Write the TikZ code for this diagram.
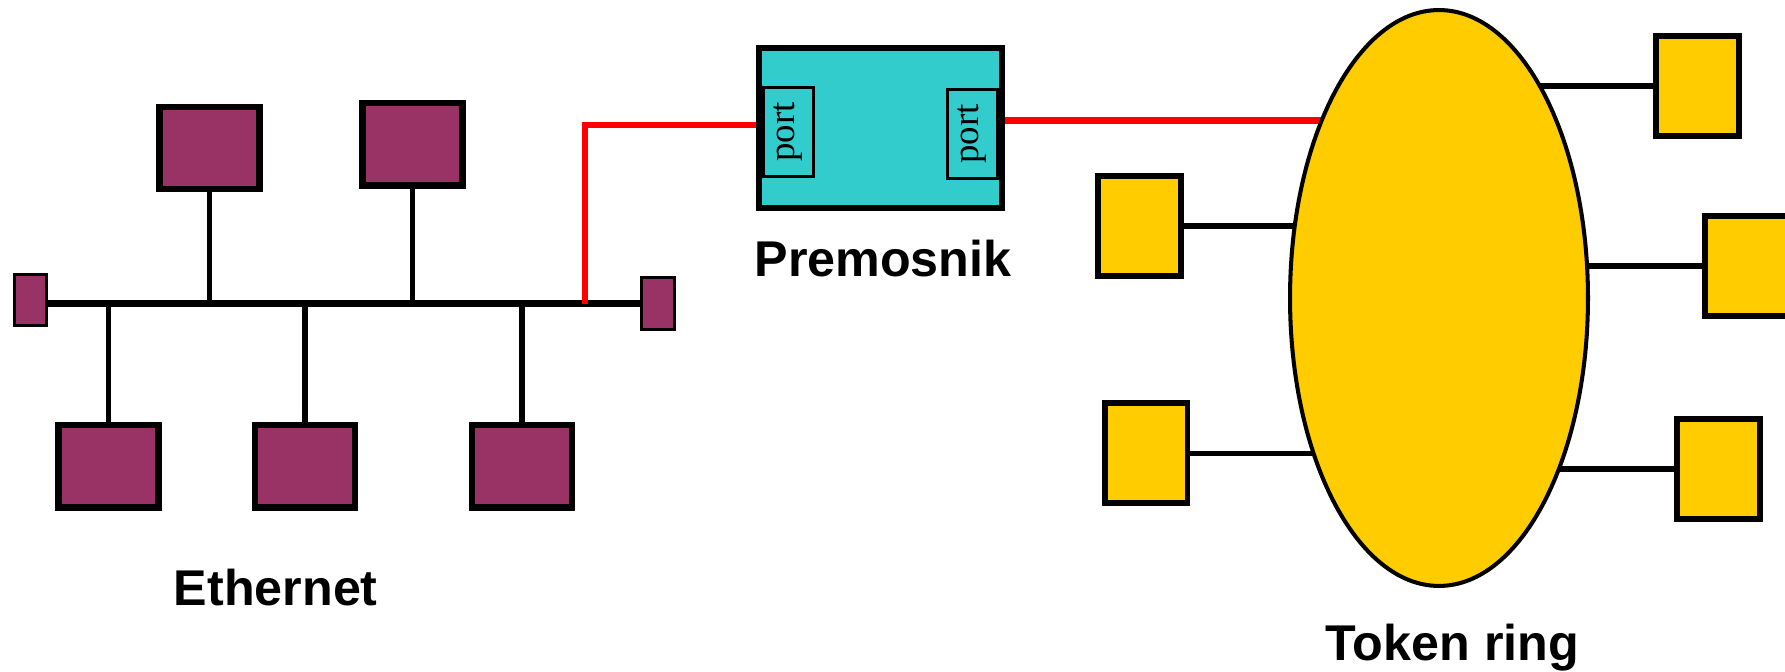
\documentclass[tikz,border=0pt]{standalone}
\usepackage{fontspec}
\usepackage{tikz}
\usetikzlibrary{positioning,shapes.geometric,backgrounds}
\newfontfamily\labelfont{Liberation Sans}
\newfontfamily\portfont{Liberation Serif}
\definecolor{ethfill}{HTML}{993366}
\definecolor{bridgefill}{HTML}{33CCCC}
\definecolor{ringfill}{HTML}{FFCC00}

\begin{document}
\begin{tikzpicture}[x=0.02cm, y=-0.02cm,
    station/.style={draw, line width=3.7pt, fill=ethfill, minimum width=2.0cm,
          minimum height=1.65cm, inner sep=0pt},
    ringstation/.style={draw, line width=3.4pt, fill=ringfill, minimum width=1.66cm,
          minimum height=2.0cm, inner sep=0pt},
    terminator/.style={draw, line width=1.9pt, fill=ethfill, minimum width=0.64cm,
          minimum height=1.02cm, inner sep=0pt},
    portbox/.style={draw, line width=1.2pt, rotate=90, minimum width=1.78cm,
          minimum height=1.0cm, inner sep=0pt, font=\portfont\fontsize{21}{24}\selectfont},
    stub/.style={line width=3pt},
    link/.style={red, line width=3.8pt},
    title/.style={font=\labelfont\bfseries\fontsize{28.6}{32}\selectfont, anchor=base,
          inner sep=0pt}]
    \useasboundingbox (0,0) rectangle (1785,672);

    \node[terminator] (termL) at (30.2,300) {};
    \node[terminator, minimum width=0.66cm, minimum height=1.04cm] (termR) at (658,303.5) {};
    \draw[line width=4.2pt] (termL.east |- termR.west) -- (termR.west);

    \node[station] (eth1) at (209.4,148) {};
    \node[station] (eth2) at (412.7,144.3) {};
    \node[station] (eth3) at (108.4,466.4) {};
    \node[station] (eth4) at (305,466.4) {};
    \node[station] (eth5) at (522,466.4) {};
    \node[title] (ethlabel) at (275.8,605) {Ethernet};

    \node[draw, line width=3.8pt, fill=bridgefill, minimum width=4.86cm, minimum height=3.2cm,
          inner sep=0pt] (bridge) at (880.5,128) {};
    \node[portbox] (portL) at (788.5,132) {port};
    \node[portbox] (portR) at (972.5,134) {port};
    \node[title] (bridgelabel) at (883,276.7) {Premosnik};

    \node[ellipse, draw, line width=2.3pt, fill=ringfill, minimum width=5.96cm,
          minimum height=11.52cm, inner sep=0pt] (ring) at (1439,298) {};
    \node[ringstation] (tr1) at (1697.5,86) {};
    \node[ringstation] (tr2) at (1746,266) {};
    \node[ringstation] (tr3) at (1139.5,226) {};
    \node[ringstation] (tr4) at (1146,453.3) {};
    \node[ringstation] (tr5) at (1718.5,469) {};
    \node[title] (ringlabel) at (1452.5,660) {Token ring};

    \coordinate (tap) at (585,303.5);
    \draw[link] (tap) |- ([yshift=0.06cm]bridge.west);

    \begin{scope}[on background layer]
      \foreach \s in {eth1,eth2,eth3,eth4,eth5}
        \draw[stub] (\s) -- (\s |- termR.west);
      \foreach \s in {tr1,tr2,tr3,tr4,tr5}
        \draw[stub] (\s) -- (\s -| ring.center);
      \draw[link] ([yshift=0.15cm]bridge.east) -- ([yshift=0.15cm]bridge.east -| ring.center);
    \end{scope}
  \end{tikzpicture}
\end{document}
